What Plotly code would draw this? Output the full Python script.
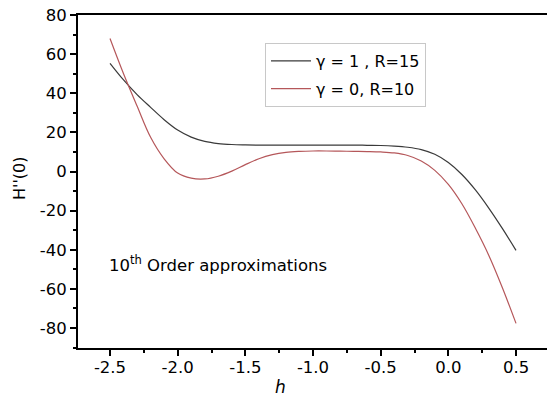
import plotly.graph_objects as go

h_vals = [-2.5, -2.4, -2.3, -2.2, -2.1, -2.0, -1.9, -1.8, -1.7, -1.6, -1.5, -1.4, -1.3, -1.2,
          -1.1, -1.0, -0.9, -0.8, -0.7, -0.6, -0.5, -0.4, -0.3, -0.2, -0.1, 0.0, 0.1, 0.2,
          0.3, 0.4, 0.5]
black_vals = [55.3, 46.8, 39.3, 32.8, 26.5, 21.2, 17.6, 15.4, 14.3, 13.8, 13.6, 13.5, 13.5, 13.5,
              13.5, 13.5, 13.5, 13.5, 13.5, 13.4, 13.3, 13.0, 12.4, 11.2, 8.8, 4.6, -1.5, -9.4,
              -18.8, -29.2, -40.3]
red_vals = [68.0, 50.0, 33.5, 17.5, 6.5, -0.8, -3.4, -3.8, -2.4, 0.2, 3.5, 6.5, 8.6, 9.8,
            10.3, 10.5, 10.5, 10.4, 10.3, 10.2, 10.0, 9.5, 8.2, 5.4, 0.6, -6.6, -16.5, -29.0,
            -43.0, -59.5, -77.6]
series_names = ["γ = 1 , R=15", "γ = 0, R=10"]
x_ticks = [-2.5, -2.0, -1.5, -1.0, -0.5, 0.0, 0.5]
x_tick_labels = ["-2.5", "-2.0", "-1.5", "-1.0", "-0.5", "0.0", "0.5"]
y_ticks = [-80, -60, -40, -20, 0, 20, 40, 60, 80]
y_tick_labels = ["-80", "-60", "-40", "-20", "0", "20", "40", "60", "80"]

font = "DejaVu Sans, Liberation Sans, Arial, sans-serif"

W, H = 547, 399
L, R, T, B = 78, 0, 15, 51
pw, ph = W - L - R, H - T - B


def px_to_paper(sx, sy):
    return (sx - L) / pw, (H - B - sy) / ph


fig = go.Figure()
fig.add_trace(go.Scatter(x=h_vals, y=black_vals, mode="lines", name=series_names[0],
                         legendgroup="a",
                         line=dict(color="#3a3a3a", width=1.2, shape="spline", smoothing=1.0)))
fig.add_trace(go.Scatter(x=h_vals, y=red_vals, mode="lines", name=series_names[1],
                         legendgroup="b",
                         line=dict(color="#b5575a", width=1.2, shape="spline", smoothing=1.0)))

fig.add_annotation(x=-2.52, y=-47.5, xref="x", yref="y", xanchor="left", yanchor="middle",
                   text="10<sup>th</sup> Order approximations", showarrow=False,
                   font=dict(family=font, size=16.5, color="black"))
ax, ay = px_to_paper(19, 178)
fig.add_annotation(x=ax, y=ay, xref="paper", yref="paper", text="H''(0)", showarrow=False,
                   textangle=-90, xanchor="center", yanchor="middle",
                   font=dict(family=font, size=16, color="black"))
hx, hy = px_to_paper(280, 387)
fig.add_annotation(x=hx, y=hy, xref="paper", yref="paper", text="<i>h</i>", showarrow=False,
                   xanchor="center", yanchor="middle",
                   font=dict(family=font, size=17, color="black"))

lx, ly = px_to_paper(265, 43)
fig.update_layout(
    width=W, height=H,
    margin=dict(l=L, r=R, t=T, b=B),
    paper_bgcolor="white", plot_bgcolor="white",
    font=dict(family=font, size=15, color="black"),
    showlegend=True,
    legend=dict(x=lx, y=ly, xanchor="left", yanchor="top",
                bgcolor="white", bordercolor="#c8c8c8", borderwidth=1,
                font=dict(family=font, size=16, color="black"),
                itemwidth=40, tracegroupgap=4),
    xaxis=dict(range=[-2.7365, 0.729], tickmode="array", tickvals=x_ticks, ticktext=x_tick_labels,
               automargin=False, ticklabeloverflow="allow", ticklabelstandoff=-3,
               showgrid=False, zeroline=False, showline=True, linecolor="black", linewidth=2,
               mirror=True, ticks="outside", ticklen=6, tickwidth=2, tickcolor="black",
               minor=dict(dtick=0.25, tick0=0, ticks="outside", ticklen=3, tickwidth=1.5, tickcolor="black"),
               tickfont=dict(family=font, size=16.5)),
    yaxis=dict(range=[-90.2, 80], tickmode="array", tickvals=y_ticks, ticktext=y_tick_labels,
               automargin=False, ticklabeloverflow="allow",
               showgrid=False, zeroline=False, showline=True, linecolor="black", linewidth=2,
               mirror=False, ticks="outside", ticklen=6, tickwidth=2, tickcolor="black",
               minor=dict(dtick=10, tick0=0, ticks="outside", ticklen=3, tickwidth=1.5, tickcolor="black"),
               tickfont=dict(family=font, size=16.5)),
)

fig.write_html("out.html", config={"displayModeBar": False},
               post_script="document.body.style.margin='0px';document.body.style.overflow='hidden';")
